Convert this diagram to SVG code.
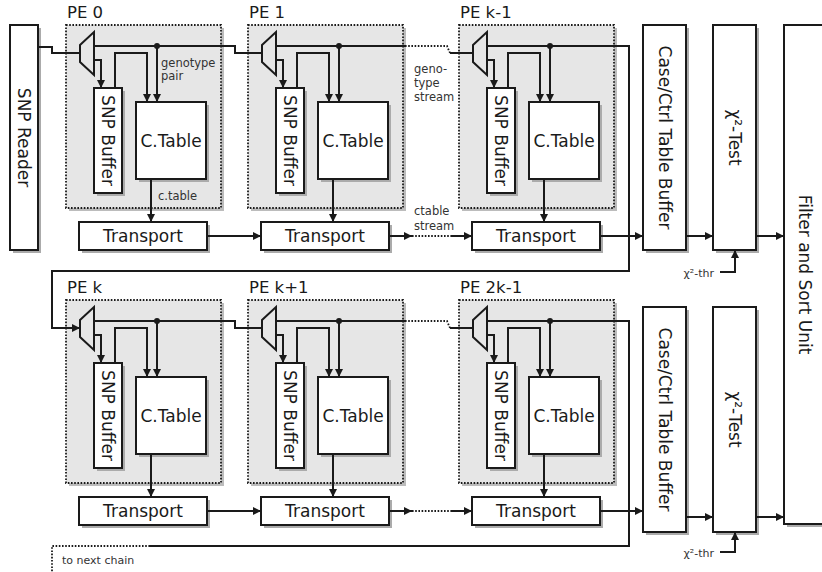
<svg xmlns="http://www.w3.org/2000/svg" width="822" height="572" viewBox="0 0 822 572">
<style>
text{font-family:"DejaVu Sans","Liberation Sans",sans-serif;fill:#1a1a1a}
.big{font-size:17px}
.lbl{font-size:16.5px}
.sm{font-size:11.5px;fill:#333}
.mid{text-anchor:middle;dominant-baseline:central}
.sh{fill:#ababab}
.blk{fill:#fff;stroke:#1a1a1a;stroke-width:2}
.pe{fill:#e6e6e6;stroke:#1a1a1a;stroke-width:1.8;stroke-dasharray:1.6,1.6}
.pesh{fill:#bcbcbc}
.mux{fill:#e6e6e6;stroke:#1a1a1a;stroke-width:2}
.w{fill:none;stroke:#1a1a1a;stroke-width:2}
.a{fill:none;stroke:#1a1a1a;stroke-width:2;marker-end:url(#ah)}
.d{fill:none;stroke:#1a1a1a;stroke-width:1.8;stroke-dasharray:1.6,1.6}
.dot{fill:#1a1a1a}
</style>
<defs>
<marker id="ah" viewBox="0 0 10 10" refX="10" refY="5" markerWidth="9" markerHeight="8" markerUnits="userSpaceOnUse" orient="auto">
<path d="M0,0 L10,5 L0,10 z" fill="#1a1a1a"/>
</marker>
<g id="peBody">
<rect class="pesh" x="69" y="28" width="155" height="183"/>
<rect class="pe" x="66" y="25" width="155" height="183"/>
<polygon class="mux" points="80,45 94,32 94,75 80,62"/>
<rect class="sh" x="97" y="91" width="28" height="105"/>
<rect class="blk" x="94" y="88" width="28" height="105"/>
<text class="big mid" transform="rotate(90 108 140.5)" x="108" y="140.5">SNP Buffer</text>
<rect class="sh" x="139" y="105" width="70" height="77"/>
<rect class="blk" x="136" y="102" width="70" height="77"/>
<text class="big mid" x="171" y="140.5">C.Table</text>
<rect class="sh" x="82" y="225" width="128" height="28"/>
<rect class="blk" x="79" y="222" width="128" height="28"/>
<text class="big mid" x="143" y="236">Transport</text>
</g>
<g id="peWires">
<path class="a" d="M94,60 H101 V88"/>
<path class="a" d="M115,88 V53 H147 V102"/>
<path class="a" d="M157,46 V102"/>
<circle class="dot" cx="157" cy="46" r="3"/>
<path class="a" d="M151,179 V222"/>
</g>
</defs>

<g id="snp-reader">
<rect class="sh" x="13" y="28" width="28" height="225"/>
<rect class="blk" x="10" y="25" width="28" height="225"/>
<text class="big mid" transform="rotate(90 24 137.5)" x="24" y="137.5">SNP Reader</text>
</g>

<g id="pe0"><use href="#peBody"/><text class="lbl" x="67" y="18">PE 0</text></g>
<g id="pe1" transform="translate(182,0)"><use href="#peBody"/><text class="lbl" x="67" y="18">PE 1</text></g>
<g id="pek-1" transform="translate(393,0)"><use href="#peBody"/><text class="lbl" x="67" y="18">PE k-1</text></g>
<g id="pek" transform="translate(0,275)"><use href="#peBody"/><text class="lbl" x="67" y="18">PE k</text></g>
<g id="pek+1" transform="translate(182,275)"><use href="#peBody"/><text class="lbl" x="67" y="18">PE k+1</text></g>
<g id="pe2k-1" transform="translate(393,275)"><use href="#peBody"/><text class="lbl" x="67" y="18">PE 2k-1</text></g>

<g id="case-ctrl-1">
<rect class="sh" x="646" y="28" width="43" height="225"/>
<rect class="blk" x="643" y="25" width="43" height="225"/>
<text class="big mid" transform="rotate(90 664.5 137.5)" x="664.5" y="137.5">Case/Ctrl Table Buffer</text>
</g>
<g id="chi-1">
<rect class="sh" x="716" y="28" width="43" height="225"/>
<rect class="blk" x="713" y="25" width="43" height="225"/>
<text class="big mid" transform="rotate(90 734.5 137.5)" x="734.5" y="137.5">χ²-Test</text>
</g>
<g id="case-ctrl-2">
<rect class="sh" x="646" y="310" width="43" height="225"/>
<rect class="blk" x="643" y="307" width="43" height="225"/>
<text class="big mid" transform="rotate(90 664.5 419.5)" x="664.5" y="419.5">Case/Ctrl Table Buffer</text>
</g>
<g id="chi-2">
<rect class="sh" x="716" y="310" width="43" height="225"/>
<rect class="blk" x="713" y="307" width="43" height="225"/>
<text class="big mid" transform="rotate(90 734.5 419.5)" x="734.5" y="419.5">χ²-Test</text>
</g>
<g id="filter-sort">
<rect class="sh" x="787" y="28" width="60" height="499"/>
<rect class="blk" x="784" y="25" width="60" height="499"/>
<text class="big mid" transform="rotate(90 805 274.5)" x="805" y="274.5">Filter and Sort Unit</text>
</g>

<g id="connectors">
<use href="#peWires"/>
<use href="#peWires" transform="translate(182,0)"/>
<use href="#peWires" transform="translate(393,0)"/>
<use href="#peWires" transform="translate(0,275)"/>
<use href="#peWires" transform="translate(182,275)"/>
<use href="#peWires" transform="translate(393,275)"/>
<!-- genotype stream top -->
<path class="w" d="M38,47 H52 V53 H80"/>
<path class="w" d="M94,46 H235 V53 H262"/>
<path class="w" d="M276,46 H405"/>
<path class="d" d="M405,46 H447 L450,53"/>
<path class="w" d="M450,53 H473"/>
<path class="a" d="M487,46 H629 V271 H52 V328 H80"/>
<!-- genotype stream bottom -->
<path class="w" d="M94,321 H235 V328 H262"/>
<path class="w" d="M276,321 H405"/>
<path class="d" d="M405,321 H447 L450,328"/>
<path class="w" d="M450,328 H473"/>
<path class="w" d="M487,321 H629 V546 H150"/>
<path class="d" d="M150,546 H52 V572"/>
<!-- ctable stream top -->
<path class="a" d="M207,236 H261"/>
<path class="a" d="M389,236 H412"/>
<path class="d" d="M412,236 H452"/>
<path class="a" d="M452,236 H472"/>
<path class="a" d="M600,236 H643"/>
<path class="a" d="M686,236 H713"/>
<path class="a" d="M756,236 H784"/>
<path class="a" d="M720,272 H735 V250"/>
<!-- ctable stream bottom -->
<path class="a" d="M207,511 H261"/>
<path class="a" d="M389,511 H412"/>
<path class="d" d="M412,511 H452"/>
<path class="a" d="M452,511 H472"/>
<path class="a" d="M600,511 H643"/>
<path class="a" d="M686,517 H713"/>
<path class="a" d="M756,517 H784"/>
<path class="a" d="M720,552 H735 V532"/>
</g>

<g id="labels">
<text class="sm" x="161" y="67">genotype</text>
<text class="sm" x="161" y="80">pair</text>
<text class="sm" x="158" y="200">c.table</text>
<text class="sm" x="414" y="73">geno-</text>
<text class="sm" x="414" y="87">type</text>
<text class="sm" x="414" y="101">stream</text>
<text class="sm" x="414" y="215">ctable</text>
<text class="sm" x="414" y="230">stream</text>
<text class="sm" x="714" y="277" text-anchor="end" style="font-size:11px">χ²-thr</text>
<text class="sm" x="714" y="557" text-anchor="end" style="font-size:11px">χ²-thr</text>
<text class="sm" x="62" y="564" style="font-size:11px">to next chain</text>
</g>
</svg>
